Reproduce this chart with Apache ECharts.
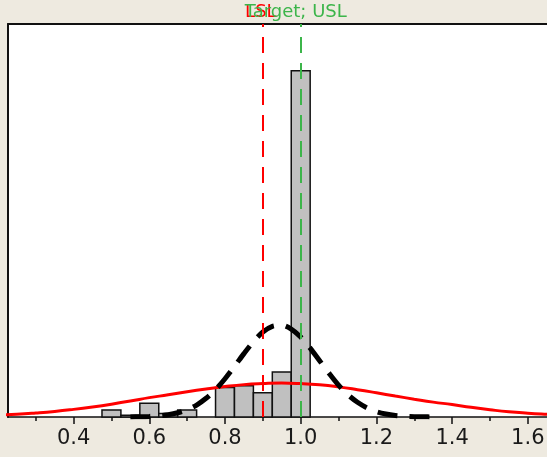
<!DOCTYPE html>
<html>
<head>
<meta charset="utf-8">
<style>
  html, body { margin: 0; padding: 0; background: #eeeae0; }
  #chart { width: 547px; height: 457px; }
</style>
<script src="https://cdn.jsdelivr.net/npm/echarts@6/dist/echarts.min.js"></script>
</head>
<body>
<div id="chart"></div>
<script>
// histogram bins (centre of each 0.05 bin) and counts
const binCenters = [0.5, 0.55, 0.6, 0.65, 0.7, 0.75, 0.8, 0.85, 0.9, 0.95, 1.0];
const binCounts  = [4, 1, 8, 2, 4, 0, 17, 18, 14, 26, 200];
const binWidth = 0.05;

// overall fit (red)
const overallX = [0.2, 0.25, 0.3, 0.35, 0.4, 0.45, 0.5, 0.55, 0.6, 0.65, 0.7, 0.75, 0.8, 0.85, 0.9, 0.95,
                  1.0, 1.05, 1.1, 1.15, 1.2, 1.25, 1.3, 1.35, 1.4, 1.45, 1.5, 1.55, 1.6, 1.65, 1.7];
const overallY = [1.2, 1.6, 2.3, 3.2, 4.4, 5.8, 7.4, 9.2, 11.2, 12.8, 14.6, 16.2, 17.6, 18.7, 19.3, 19.6,
                  19.3, 18.6, 17.4, 15.8, 14.0, 12.1, 10.3, 8.6, 7.2, 5.6, 4.2, 3.0, 2.2, 1.6, 1.1];

// within fit (black dashed)
const withinX = [0.55, 0.575, 0.6, 0.625, 0.65, 0.675, 0.7, 0.725, 0.75, 0.775, 0.8, 0.825, 0.85, 0.875,
                 0.9, 0.925, 0.95, 0.975, 1.0, 1.025, 1.05, 1.075, 1.1, 1.125, 1.15, 1.175, 1.2, 1.225,
                 1.25, 1.275, 1.3, 1.325, 1.35];
const withinY = [0.07, 0.16, 0.34, 0.7, 1.34, 2.45, 4.2, 6.9, 10.8, 15.8, 22.1, 29.2, 36.6, 43.5,
                 49.1, 52.4, 53.0, 50.8, 46.2, 39.8, 32.5, 25.2, 18.4, 12.8, 8.5, 5.3, 3.1, 1.76,
                 0.9, 0.47, 0.2, 0.1, 0.05];

// spec limits
const lsl = 0.9;
const target = 1.0;

// axis (plot runs past the right edge of the window)
const xMin = 0.2267, xMax = 1.6771;
const majorTicks = [0.4, 0.6, 0.8, 1.0, 1.2, 1.4, 1.6];
const minorTicks = [0.3, 0.5, 0.7, 0.9, 1.1, 1.3, 1.5];
const yMax = 227;

const zip = (xs, ys) => xs.map((x, i) => [x, ys[i]]);

let myChart = echarts.init(document.getElementById('chart'));
let option = {
    backgroundColor: '#eeeae0',
    animation: false,
    grid: {
        left: 8, top: 24, right: -10, bottom: 40,
        outerBoundsMode: 'none',
        containLabel: false,
        show: true,
        backgroundColor: '#fff',
        borderColor: 'transparent',
        borderWidth: 0
    },
    xAxis: [{
        type: 'value',
        min: xMin, max: xMax,
        splitLine: { show: false },
        axisLine: { show: true, onZero: false, lineStyle: { color: '#111', width: 1.5 } },
        axisTick: { show: true, customValues: majorTicks, length: 7, lineStyle: { color: '#111', width: 1.5 } },
        axisLabel: {
            customValues: majorTicks,
            margin: 11,
            fontFamily: 'DejaVu Sans',
            fontSize: 21,
            color: '#1a1a1a',
            formatter: v => v.toFixed(1)
        }
    }, {
        // minor ticks
        type: 'value',
        min: xMin, max: xMax,
        position: 'bottom',
        splitLine: { show: false },
        axisLine: { show: false },
        axisTick: { show: true, customValues: minorTicks, length: 4, lineStyle: { color: '#111', width: 1.5 } },
        axisLabel: { show: false }
    }, {
        // top frame line
        type: 'value',
        min: xMin, max: xMax,
        position: 'top',
        splitLine: { show: false },
        axisLine: { show: true, lineStyle: { color: '#111', width: 2 } },
        axisTick: { show: false },
        axisLabel: { show: false }
    }],
    yAxis: {
        type: 'value',
        min: 0, max: yMax,
        splitLine: { show: false },
        axisLine: { show: true, lineStyle: { color: '#111', width: 2 } },
        axisTick: { show: false },
        axisLabel: { show: false }
    },
    series: [
        {
            // spec lines, behind the bars
            type: 'line',
            data: [],
            z: 1,
            markLine: {
                silent: true,
                symbol: 'none',
                animation: false,
                data: [
                    {
                        xAxis: lsl,
                        lineStyle: { color: '#ff0000', width: 2, type: [16, 10] },
                        label: { show: true, position: 'end', formatter: 'LSL', color: '#ff0000',
                                 fontFamily: 'DejaVu Sans', fontSize: 18, distance: 3, offset: [-2, 0] }
                    },
                    {
                        xAxis: target,
                        lineStyle: { color: '#3cb54a', width: 2, type: [16, 10] },
                        label: { show: true, position: 'end', formatter: 'Target; USL', color: '#3cb54a',
                                 fontFamily: 'DejaVu Sans', fontSize: 18, distance: 3, offset: [-5, 0] }
                    }
                ]
            }
        },
        {
            type: 'custom',
            z: 2,
            data: zip(binCenters, binCounts),
            renderItem: function (params, api) {
                let c = api.value(0), v = api.value(1);
                if (!v) return null;
                let p0 = api.coord([c - binWidth / 2, v]);
                let p1 = api.coord([c + binWidth / 2, 0]);
                return {
                    type: 'rect',
                    shape: { x: p0[0], y: p0[1], width: p1[0] - p0[0], height: p1[1] - p0[1] },
                    style: { fill: '#c0c0c0', stroke: '#111', lineWidth: 1.5 }
                };
            }
        },
        {
            type: 'line',
            z: 3,
            data: zip(overallX, overallY),
            smooth: true,
            showSymbol: false,
            lineStyle: { color: '#ff0000', width: 3 }
        },
        {
            type: 'line',
            z: 4,
            data: zip(withinX, withinY),
            smooth: 0.3,
            showSymbol: false,
            lineStyle: { color: '#000', width: 5, type: [20, 12] }
        }
    ]
};
myChart.setOption(option);
</script>
</body>
</html>
